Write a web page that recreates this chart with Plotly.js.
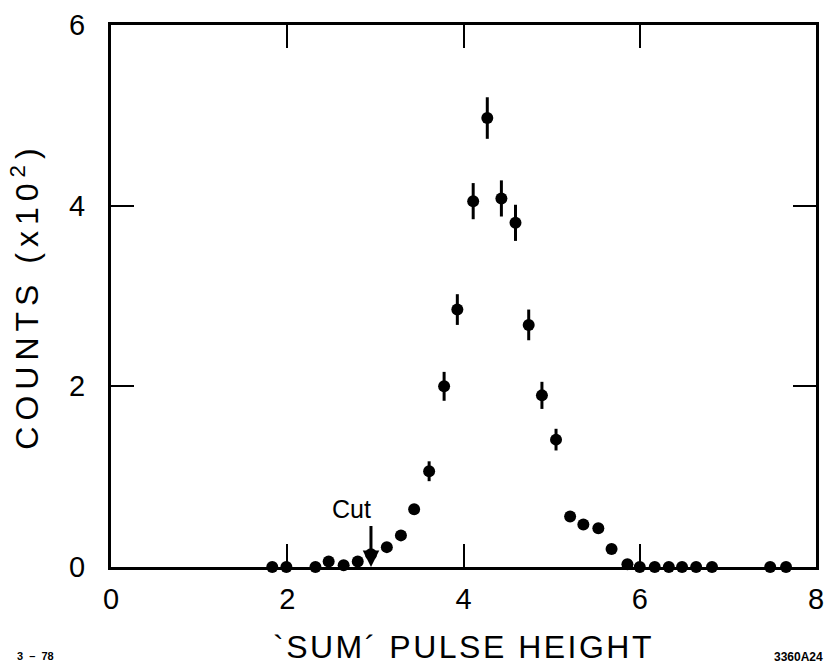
<!DOCTYPE html>
<html>
<head>
<meta charset="utf-8">
<script src="https://cdn.plot.ly/plotly-3.0.1.min.js"></script>
<style>
  html, body { margin: 0; padding: 0; background: #fff; }
  #chart { width: 825px; height: 668px; }
  /* wide, drafting-style lettering for the axis titles */
  #chart text.ytitle { letter-spacing: 6px; }
  #chart text.xtitle { letter-spacing: 2.5px; }
</style>
</head>
<body>
<div id="chart"></div>
<script>
// 'SUM' pulse height spectrum (counts in units of 10^2)
const pulseHeight = [1.83, 1.99, 2.32, 2.47, 2.64, 2.80, 2.95, 3.13, 3.29, 3.44, 3.61,
                     3.78, 3.93, 4.11, 4.27, 4.43, 4.59, 4.74, 4.89, 5.05, 5.21, 5.36,
                     5.53, 5.68, 5.86, 6.00, 6.17, 6.33, 6.48, 6.64, 6.82, 7.48, 7.66];
const counts = [0.00, 0.00, 0.00, 0.06, 0.02, 0.06, 0.14, 0.22, 0.35, 0.64, 1.06,
                2.00, 2.85, 4.05, 4.97, 4.08, 3.81, 2.68, 1.90, 1.41, 0.56, 0.47,
                0.43, 0.20, 0.03, 0.00, 0.00, 0.00, 0.00, 0.00, 0.00, 0.00, 0.00];
const countErrors = [0, 0, 0, 0, 0, 0, 0, 0, 0, 0.05, 0.11,
                     0.16, 0.17, 0.20, 0.23, 0.20, 0.20, 0.17, 0.15, 0.12, 0.04, 0.04,
                     0, 0, 0, 0, 0, 0, 0, 0, 0, 0, 0];

const xTicks = [0, 2, 4, 6, 8];
const yTicks = [0, 2, 4, 6];

const cutPosition = 2.95;
const cutArrowTop = 0.47;

const font = 'Liberation Sans, Arial, sans-serif';

const W = 825, H = 668;
const M = { l: 111, r: 9, t: 25, b: 101 };
const plotW = W - M.l - M.r, plotH = H - M.t - M.b;

const trace = {
  type: 'scatter',
  mode: 'markers',
  x: pulseHeight,
  y: counts,
  cliponaxis: false,
  marker: { color: '#000', size: 12, line: { width: 0 } },
  error_y: { type: 'data', array: countErrors, visible: true, color: '#000', thickness: 3, width: 0 },
  hoverinfo: 'x+y'
};

const axisCommon = {
  showgrid: false,
  zeroline: false,
  showline: true,
  linecolor: '#000',
  linewidth: 3,
  mirror: 'ticks',
  ticks: 'inside',
  ticklen: 23,
  tickwidth: 2,
  tickcolor: '#000',
  tickfont: { family: font, size: 29, color: '#000' }
};

const layout = {
  width: W,
  height: H,
  margin: M,
  paper_bgcolor: '#fff',
  plot_bgcolor: '#fff',
  showlegend: false,
  xaxis: Object.assign({}, axisCommon, {
    range: [0, 8],
    tickvals: xTicks,
    ticktext: xTicks.map(String),
    ticklabelstandoff: 4,
    title: { text: "`SUM\u00B4 PULSE HEIGHT", font: { family: font, size: 32, color: '#000' }, standoff: 22 }
  }),
  yaxis: Object.assign({}, axisCommon, {
    range: [0, 6],
    tickvals: yTicks,
    ticktext: yTicks.map(String),
    ticklabelstandoff: 17,
    title: { text: 'COUNTS (x10<sup>2</sup>)', font: { family: font, size: 32, color: '#000' }, standoff: 21 }
  }),
  annotations: [
    {
      x: cutPosition, y: 0, xref: 'x', yref: 'y',
      ax: cutPosition, ay: cutArrowTop, axref: 'x', ayref: 'y',
      showarrow: true, arrowhead: 2, arrowsize: 1.1, arrowwidth: 3, arrowcolor: '#000', text: ''
    },
    {
      x: cutPosition - 0.22, y: cutArrowTop + 0.17, xref: 'x', yref: 'y',
      text: 'Cut', showarrow: false,
      font: { family: font, size: 25, color: '#000' }
    },
    {
      x: -96 / plotW, y: -(M.b - 4) / plotH, xref: 'paper', yref: 'paper',
      xanchor: 'left', yanchor: 'bottom',
      text: '<b>3  \u2013  78</b>', showarrow: false,
      font: { family: font, size: 11, color: '#000' }
    },
    {
      x: 1 + M.r / plotW, y: -(M.b - 2) / plotH, xref: 'paper', yref: 'paper',
      xanchor: 'right', yanchor: 'bottom',
      text: '<b>3360A24</b>', showarrow: false,
      font: { family: font, size: 12, color: '#000' }
    }
  ]
};

Plotly.newPlot('chart', [trace], layout, { displayModeBar: false, staticPlot: true });
</script>
</body>
</html>
